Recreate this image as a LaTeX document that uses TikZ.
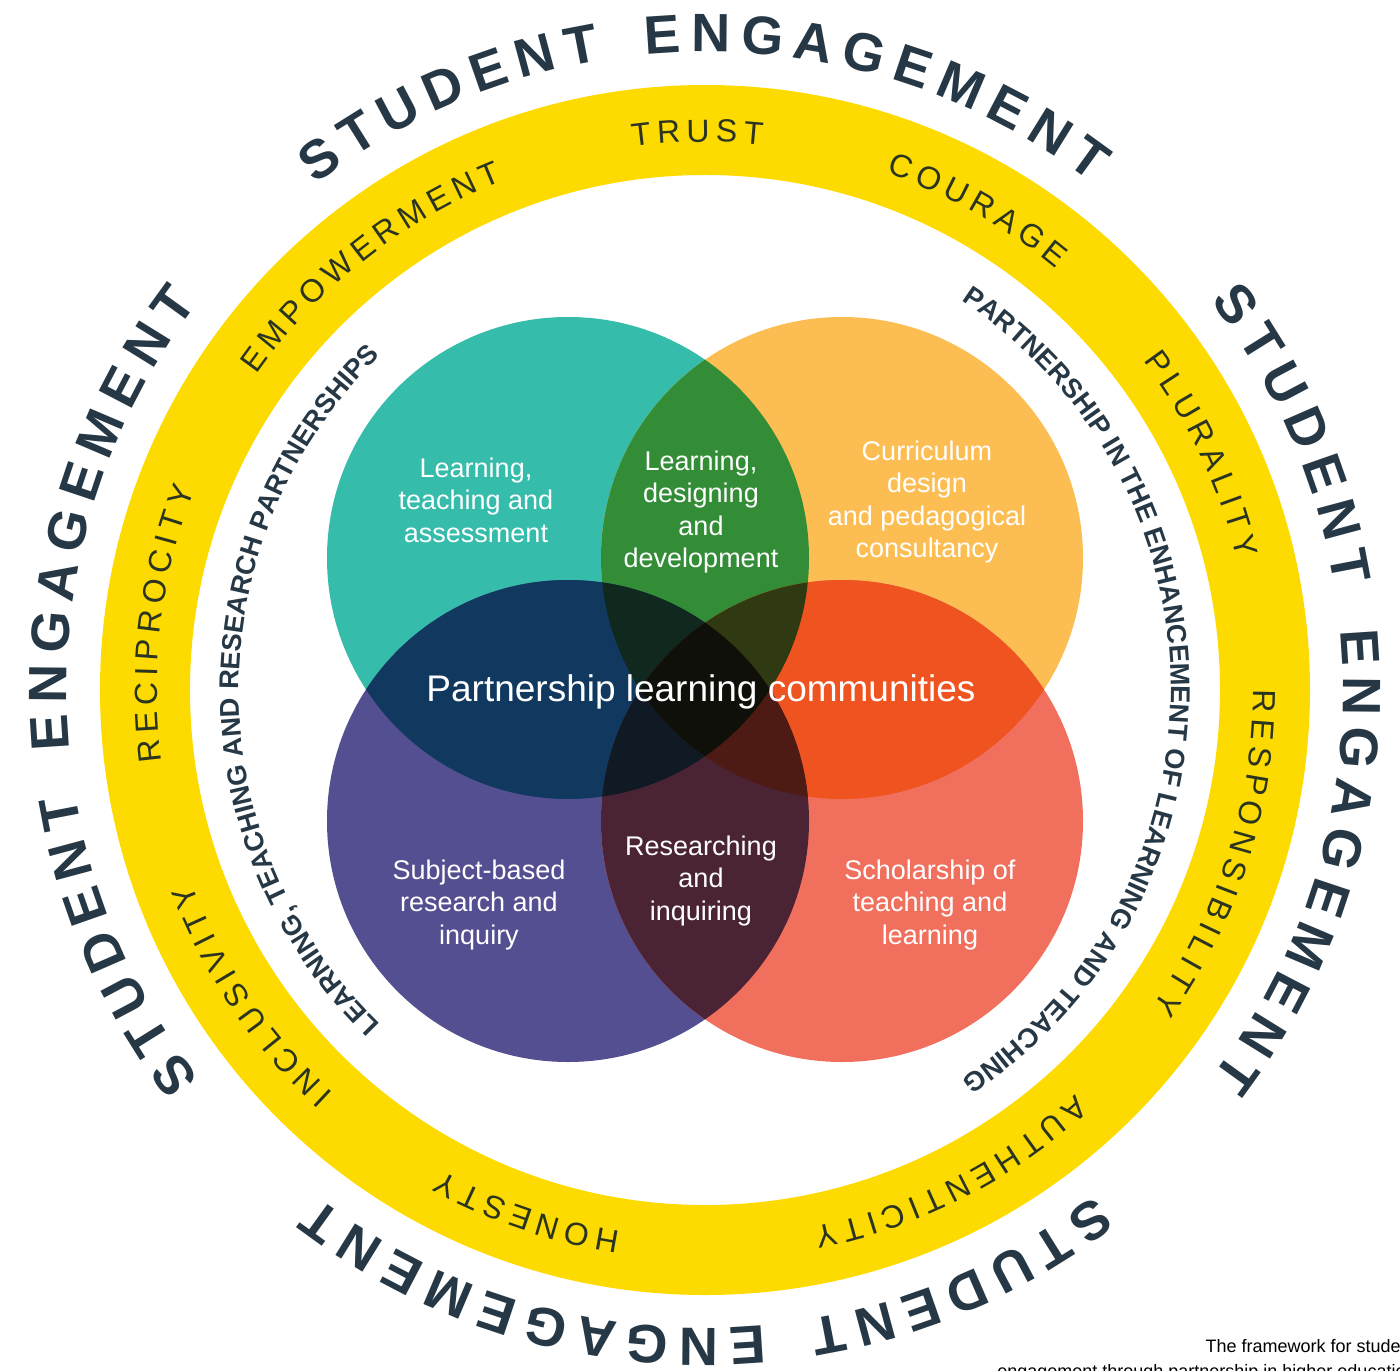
\documentclass[tikz,border=0pt]{standalone}
\usepackage{fontspec}
\setmainfont{Liberation Sans}
\newfontfamily\ringfont{Liberation Sans}
\newfontfamily\outerfont[WordSpace=0.65]{Liberation Sans}
\usetikzlibrary{decorations.text}

\definecolor{slate}{HTML}{263845}
\definecolor{ringyellow}{HTML}{FDDB00}
\definecolor{ringtext}{HTML}{2A3420}
\definecolor{cteal}{HTML}{35BCAA}
\definecolor{corange}{HTML}{FCBD52}
\definecolor{cpurple}{HTML}{544F91}
\definecolor{csalmon}{HTML}{F1705D}
\definecolor{cTO}{HTML}{338D37}
\definecolor{cTP}{HTML}{11395F}
\definecolor{cOR}{HTML}{EF531F}
\definecolor{cPR}{HTML}{4A2335}
\definecolor{cTOP}{HTML}{11281F}
\definecolor{cTOR}{HTML}{303A12}
\definecolor{cTPR}{HTML}{0F1A24}
\definecolor{cOPR}{HTML}{4D1B13}
\definecolor{cTOPR}{HTML}{0E1009}

\def\circT{(-137,132) circle[radius=241]}
\def\circO{(137,132) circle[radius=241]}
\def\circP{(-137,-131) circle[radius=241]}
\def\circR{(137,-131) circle[radius=241]}

\begin{document}
\begin{tikzpicture}[x=0.5pt,y=0.5pt,
  outerword/.style={decorate,decoration={text along path,text align=center,
    text color=slate,text={|\outerfont\bfseries\fontsize{27}{32}\selectfont|#1}}},
  ringword/.style={decorate,decoration={text along path,text align=center,
    text color=ringtext,text={|\ringfont\fontsize{16}{19}\selectfont|#1}}},
  innerword/.style={decorate,decoration={text along path,text align=center,
    text color=slate,text={|\bfseries\fontsize{13.6}{16}\selectfont|#1}}},
  venntext/.style={text=white,align=center,inner sep=0pt,
    font=\fontsize{13.5}{16.25}\selectfont}]
\useasboundingbox (-705,-680) rectangle (695,690);

\fill[ringyellow,even odd rule] (0,0) circle[radius=605] (0,0) circle[radius=515];

\fill[cteal] \circT;
\fill[corange] \circO;
\fill[cpurple] \circP;
\fill[csalmon] \circR;

\begin{scope}\clip \circT; \fill[cTO] \circO; \end{scope}
\begin{scope}\clip \circT; \fill[cTP] \circP; \end{scope}
\begin{scope}\clip \circO; \fill[cOR] \circR; \end{scope}
\begin{scope}\clip \circP; \fill[cPR] \circR; \end{scope}
\begin{scope}\clip \circT; \clip \circO; \fill[cTOP] \circP; \end{scope}
\begin{scope}\clip \circT; \clip \circO; \fill[cTOR] \circR; \end{scope}
\begin{scope}\clip \circT; \clip \circP; \fill[cTPR] \circR; \end{scope}
\begin{scope}\clip \circO; \clip \circP; \fill[cOPR] \circR; \end{scope}
\begin{scope}\clip \circT; \clip \circO; \clip \circP; \fill[cTOPR] \circR; \end{scope}

\node[venntext] (lta) at (-229,190) {Learning,\\teaching and\\assessment};
\node[venntext] (ldd) at (-4,178) {Learning,\\designing\\and\\development};
\node[venntext] (cdp) at (222,188) {Curriculum\\design\\and pedagogical\\consultancy};
\node[venntext,font=\fontsize{18.5}{22}\selectfont] (plc) at (-4,-2) {Partnership learning communities};
\node[venntext] (sbr) at (-226,-215) {Subject-based\\research and\\inquiry};
\node[venntext] (ri) at (-4,-191) {Researching\\and\\inquiring};
\node[venntext] (stl) at (225,-215) {Scholarship of\\teaching and\\learning};

\foreach \c in {90,0,-90,180} {
  \path[outerword={S T U D E N T}] (\c+23.5+60:638) arc[start angle=\c+23.5+60,end angle=\c+23.5-60,radius=638];
  \path[outerword={E N G A G E M E N T}] (\c-16+70:638) arc[start angle=\c-16+70,end angle=\c-16-70,radius=638];
}

\path[ringword={T R U S T}] (150.8:548) arc[start angle=150.8,end angle=30.8,radius=548];
\path[ringword={C O U R A G E}] (120.4:548) arc[start angle=120.4,end angle=0.4,radius=548];
\path[ringword={P L U R A L I T Y}] (85.4:548) arc[start angle=85.4,end angle=-34.6,radius=548];
\path[ringword={R E S P O N S I B I L I T Y}] (52.4:548) arc[start angle=52.4,end angle=-87.6,radius=548];
\path[ringword={A U T H E N T I C I T Y}] (-3:548) arc[start angle=-3,end angle=-123,radius=548];
\path[ringword={H O N E S T Y}] (-48.8:548) arc[start angle=-48.8,end angle=-168.8,radius=548];
\path[ringword={I N C L U S I V I T Y}] (-86:548) arc[start angle=-86,end angle=-206,radius=548];
\path[ringword={R E C I P R O C I T Y}] (233:548) arc[start angle=233,end angle=113,radius=548];
\path[ringword={E M P O W E R M E N T}] (188.3:548) arc[start angle=188.3,end angle=68.3,radius=548];

\path[innerword={LEARNING, TEACHING AND RESEARCH PARTNERSHIPS}] (260:466) arc[start angle=260,end angle=100,radius=466];
\path[innerword={PARTNERSHIP IN THE ENHANCEMENT OF LEARNING AND TEACHING}] (85:466) arc[start angle=85,end angle=-85,radius=466];

\node[anchor=north east,align=right,inner sep=0pt,text=black,
  font=\fontsize{9}{12.5}\selectfont] (cap) at (711,-649)
  {The framework for student\\engagement through partnership in higher education};
\end{tikzpicture}
\end{document}
